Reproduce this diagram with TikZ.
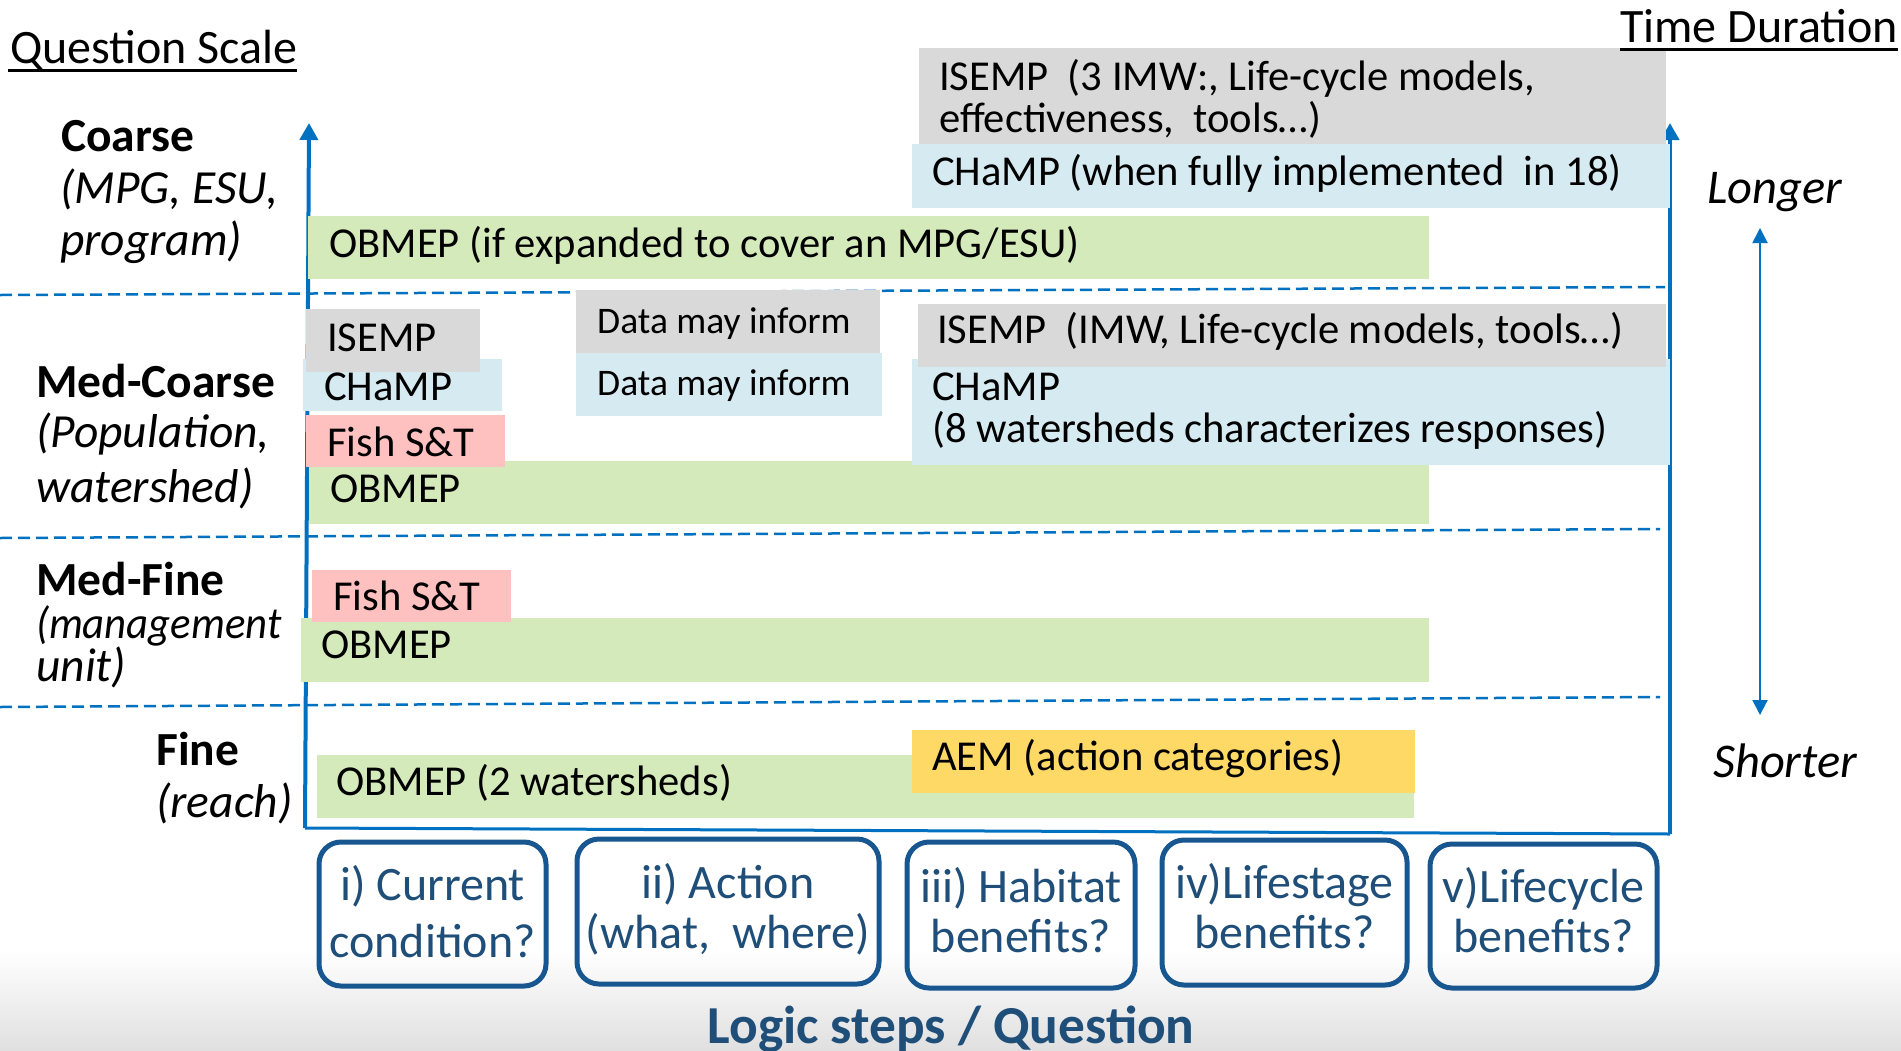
\documentclass[tikz,border=0pt]{standalone}
\usepackage{fontspec}
\setmainfont{Carlito}
\usetikzlibrary{arrows.meta}
\definecolor{gbox}{RGB}{217,217,217}
\definecolor{bbox}{RGB}{214,234,241}
\definecolor{grbox}{RGB}{213,234,186}
\definecolor{pbox}{RGB}{255,192,192}
\definecolor{ybox}{RGB}{255,217,102}
\definecolor{axisblue}{RGB}{0,112,192}
\definecolor{qborder}{RGB}{24,86,144}
\definecolor{qtext}{RGB}{31,78,121}
\tikzset{
  bx/.style={rectangle, inner sep=0pt, outer sep=0pt, anchor=north west},
  txt/.style={inner sep=0pt, anchor=base west, font=\fontsize{42.6}{50}\selectfont},
  lblb/.style={inner sep=0pt, anchor=base west, font=\fontsize{47.5}{55}\selectfont\bfseries},
  lbli/.style={inner sep=0pt, anchor=base west, font=\fontsize{47.5}{55}\selectfont\itshape},
  ttl/.style={inner sep=0pt, anchor=base west, font=\fontsize{48}{58}\selectfont},
  qbox/.style={draw=qborder, line width=5pt, rounded corners=22pt, inner sep=0pt},
  qtxt/.style={inner sep=0pt, anchor=base, text=qtext, font=\fontsize{48}{56}\selectfont},
  gridline/.style={draw=axisblue, dash pattern=on 12pt off 6pt, line width=2.5pt},
  axisline/.style={draw=axisblue, line width=4pt},
}
\begin{document}
\begin{tikzpicture}[x=1pt,y=-1pt]
\useasboundingbox (0,0) rectangle (1901,1050);
% background gradient
\shade[top color=white, bottom color={rgb,255:red,224;green,224;blue,224}] (0,950) rectangle (1901,1050);

% dashed separators
\coordinate (d1a) at (0,295); \coordinate (d1b) at (1665,287);
\coordinate (d2a) at (0,538); \coordinate (d2b) at (1660,529);
\coordinate (d3a) at (0,707); \coordinate (d3b) at (1660,697);
\draw[gridline] (d1a) -- (d1b);
\draw[gridline] (d2a) -- (d2b);
\draw[gridline] (d3a) -- (d3b);

% axes
\coordinate (lax0) at (305,828); \coordinate (lax1) at (309,123);
\coordinate (rax0) at (1670,834); \coordinate (rax1) at (1670,123);
\draw[axisline, -{Triangle[width=18pt,length=17pt]}] (lax0) -- (lax1);
\draw[axisline, -{Triangle[width=18pt,length=17pt]}] (rax0) -- (rax1);
\draw[draw=axisblue, line width=3pt] (lax0) -- (rax0);
\coordinate (tdA) at (1760,228); \coordinate (tdB) at (1760,715);
\draw[draw=axisblue, line width=2pt, {Triangle[width=15pt,length=15pt]}-{Triangle[width=15pt,length=15pt]}] (tdA) -- (tdB);

% green boxes
\node[bx, fill=grbox, minimum width=1121pt, minimum height=63pt] (obA) at (308,216) {};
\node[bx, fill=grbox, minimum width=1120pt, minimum height=63pt] (obB) at (309,461) {};
\node[bx, fill=grbox, minimum width=1128pt, minimum height=64pt] (obC) at (301,618) {};
\node[bx, fill=grbox, minimum width=1097pt, minimum height=63pt] (obD) at (317,755) {};
% yellow
\node[bx, fill=ybox, minimum width=503pt, minimum height=63pt] (aem) at (912,730) {};
% blue
\node[bx, fill=bbox, minimum width=758pt, minimum height=64pt] (champA) at (912,144) {};
\node[bx, fill=bbox, minimum width=199pt, minimum height=52pt] (champB) at (303,359) {};
\node[bx, fill=bbox, minimum width=306pt, minimum height=63pt] (dataB) at (576,353) {};
\node[bx, fill=bbox, minimum width=758pt, minimum height=106pt] (champC) at (912,359) {};
% pink
\node[bx, fill=pbox, minimum width=199pt, minimum height=52pt] (fishA) at (306,415) {};
\node[bx, fill=pbox, minimum width=199pt, minimum height=52pt] (fishB) at (312,570) {};
% gray
\node[bx, fill=gbox, minimum width=747pt, minimum height=96pt] (isempA) at (919,48) {};
\node[bx, fill=gbox, minimum width=174pt, minimum height=63pt] (isempB) at (306,309) {};
\node[bx, fill=gbox, minimum width=304pt, minimum height=63pt] (dataG) at (576,290) {};
\node[bx, fill=gbox, minimum width=748pt, minimum height=63pt] (isempC) at (918,304) {};

% box texts
\node[txt] (tIsA1) at (939,90) {ISEMP\ \ (3 IMW:, Life-cycle models,};
\node[txt] (tIsA2) at (939,132) {effectiveness,\ \ tools…)};
\node[txt] (tChA) at (932,185) {CHaMP (when fully implemented\ \ in 18)};
\node[txt] (tObA) at (329,257) {OBMEP (if expanded to cover an MPG/ESU)};
\node[txt] (tIsB) at (327,351) {ISEMP};
\node[txt] (tChB) at (324,400) {CHaMP};
\node[txt] (tFiA) at (327,456) {Fish S\&T};
\node[txt] (tObB) at (330,502) {OBMEP};
\node[txt, font=\fontsize{37.5}{44}\selectfont] (tDaG) at (597,333) {Data may inform};
\node[txt, font=\fontsize{37.5}{44}\selectfont] (tDaB) at (597,395) {Data may inform};
\node[txt] (tIsC) at (937,343) {ISEMP\ \ (IMW, Life-cycle models, tools…)};
\node[txt] (tChC1) at (932,400) {CHaMP};
\node[txt] (tChC2) at (932,442) {(8 watersheds characterizes responses)};
\node[txt] (tFiB) at (333,610) {Fish S\&T};
\node[txt] (tObC) at (321,658) {OBMEP};
\node[txt] (tObD) at (336,795) {OBMEP (2 watersheds)};
\node[txt] (tAem) at (932,770) {AEM (action categories)};

% titles
\node[ttl] (qs) at (10,63) {Question Scale};
\draw[line width=3pt] (qs.base west) ++(-2,7) -- ++(289,0);
\node[ttl] (td) at (1620,42) {Time Duration};
\draw[line width=3pt] (td.base west) ++(0,7) -- ++(278,0);

% row labels
\node[lblb] (lC) at (61,151) {Coarse};
\node[lbli] (lC2) at (60,203) {(MPG, ESU,};
\node[lbli] (lC3) at (60,255) {program)};
\node[lblb] (lMC) at (36,397) {Med-Coarse};
\node[lbli] (lMC2) at (36,447) {(Population,};
\node[lbli] (lMC3) at (36,502) {watershed)};
\node[lblb] (lMF) at (36,595) {Med-Fine};
\node[lbli, font=\fontsize{45}{52}\selectfont\itshape] (lMF2) at (36,638) {\scalebox{0.95}[1]{(management}};
\node[lbli] (lMF3) at (36,681) {unit)};
\node[lblb] (lF) at (156,765) {Fine};
\node[lbli] (lF2) at (156,817) {(reach)};
\node[lbli, font=\fontsize{48.5}{56}\selectfont\itshape] (lon) at (1707,203) {Longer};
\node[lbli, font=\fontsize{48.5}{56}\selectfont\itshape] (sho) at (1713,777) {Shorter};

% question boxes
\node[qbox, minimum width=227pt, minimum height=144pt] (q1) at (432.5,914) {};
\node[qbox, minimum width=302pt, minimum height=145pt] (q2) at (728,911.5) {};
\node[qbox, minimum width=228pt, minimum height=146pt] (q3) at (1021,915) {};
\node[qbox, minimum width=245pt, minimum height=145pt] (q4) at (1284.5,912.5) {};
\node[qbox, minimum width=227pt, minimum height=144pt] (q5) at (1543.5,916) {};
\node[qtxt] (q1a) at (432.5,900) {i) Current};
\node[qtxt] (q1b) at (432.5,957) {condition?};
\node[qtxt] (q2a) at (728,898) {ii) Action};
\node[qtxt] (q2b) at (728,948) {(what,\ \ where)};
\node[qtxt] (q3a) at (1021,902) {iii) Habitat};
\node[qtxt] (q3b) at (1021,952) {benefits?};
\node[qtxt] (q4a) at (1284.5,898) {iv)Lifestage};
\node[qtxt] (q4b) at (1284.5,948) {benefits?};
\node[qtxt] (q5a) at (1543.5,902) {v)Lifecycle};
\node[qtxt] (q5b) at (1543.5,952) {benefits?};

\node[inner sep=0pt, anchor=base, text=qtext, font=\fontsize{53.4}{62}\selectfont\bfseries] (logic) at (951,1043) {Logic steps / Question};
\end{tikzpicture}
\end{document}
